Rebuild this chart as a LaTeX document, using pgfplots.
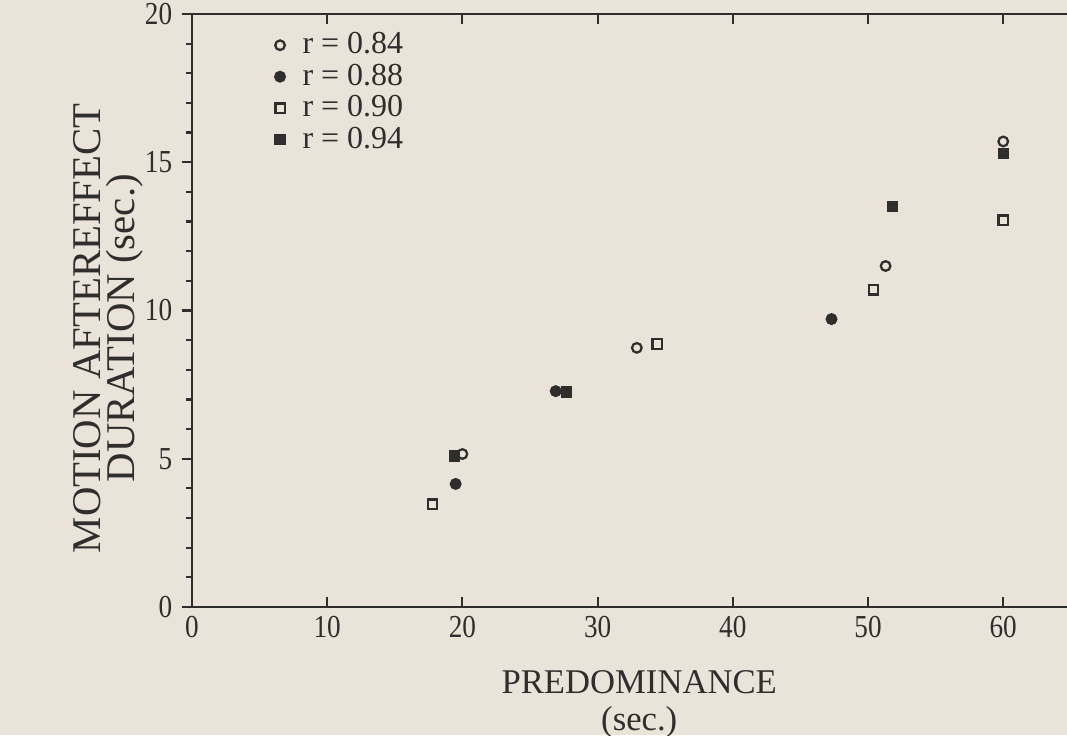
\documentclass[border=0pt]{standalone}
\usepackage{fontspec}
\setmainfont{Liberation Serif}
\newfontfamily\tickfont[FakeStretch=0.85]{Liberation Serif}
\usepackage{pgfplots}
\pgfplotsset{compat=1.18}
\definecolor{bg}{RGB}{234,227,218}
\definecolor{ink}{RGB}{48,46,44}

\pgfplotstableread{
x y
20.0 5.16
32.9 8.74
51.3 11.5
60.0 15.7
}\rA
\pgfplotstableread{
x y
19.5 4.15
26.9 7.28
47.3 9.71
}\rB
\pgfplotstableread{
x y
17.8 3.47
34.4 8.87
50.4 10.7
60.0 13.05
}\rC
\pgfplotstableread{
x y
19.4 5.09
27.7 7.25
51.8 13.5
60.0 15.3
}\rD

\begin{document}
\begin{tikzpicture}
\fill[bg] (0,0) rectangle (400.125pt,275.625pt);
\begin{scope}
\clip (0,0) rectangle (400.125pt,275.625pt);
% y ticks / labels axis
\begin{axis}[
  at={(72pt,48pt)}, anchor=south west,
  scale only axis, width=332.1pt, height=222.4pt,
  xmin=0, xmax=65.5, ymin=0, ymax=20,
  axis line style={draw=none},
  xtick=\empty,
  ytick={0,5,...,20},
  minor ytick={1,2,3,4,6,7,8,9,11,12,13,14,16,17,18,19},
  ytick pos=left,
  tick align=outside,
  major tick length=3.9pt, minor tick length=2.2pt,
  every tick/.style={ink, line width=0.8pt},
  /pgf/number format/assume math mode=true,
  yticklabel style={font=\tickfont\fontsize{12}{12}\selectfont, text=ink},
  ylabel={MOTION AFTEREFFECT\\DURATION (sec.)},
  every axis y label/.style={at={(axis description cs:-0.094,0.47)}, rotate=90, anchor=center, align=center, text=ink, font=\fontsize{15.3}{12.8}\selectfont},
]
\end{axis}
% main axis
\begin{axis}[
  at={(72pt,48pt)}, anchor=south west,
  scale only axis, width=332.1pt, height=222.4pt,
  xmin=0, xmax=65.5, ymin=0, ymax=20,
  axis line style={ink, line width=0.9pt},
  xtick={0,10,...,60},
  ytick=\empty,
  tick align=inside,
  major tick length=3.9pt,
  every tick/.style={ink, line width=0.8pt},
  /pgf/number format/assume math mode=true,
  xticklabel style={font=\tickfont\fontsize{12}{12}\selectfont, text=ink},
  xlabel={PREDOMINANCE\\(sec.)},
  every axis x label/.style={at={(axis description cs:0.505,0)}, anchor=north, yshift=-23.5pt, inner sep=0pt, align=center, text=ink, font=\fontsize{13}{14}\selectfont},
  legend style={at={(axis description cs:0.090,0.974)}, anchor=north west, draw=none, fill=none,
    inner sep=0pt, column sep=0pt,
    font=\fontsize{12}{12}\selectfont, text=ink, row sep=0.3pt,
    nodes={inner sep=1pt, text height=8pt, text depth=1.5pt}},
  legend image code/.code={\path (-2.5pt,0pt) (7pt,0pt); \draw[#1] plot coordinates {(0pt,0pt)};},
  legend cell align=left,
]
\addplot[only marks, mark=o, mark size=1.8pt, ink, line width=0.85pt] table {\rA};
\addlegendentry{r = 0.84}
\addplot[only marks, mark=*, mark size=2.05pt, ink, fill=ink] table {\rB};
\addlegendentry{r = 0.88}
\addplot[only marks, mark=square, mark size=1.75pt, ink, line width=0.85pt] table {\rC};
\addlegendentry{r = 0.90}
\addplot[only marks, mark=square*, mark size=1.9pt, ink, fill=ink] table {\rD};
\addlegendentry{r = 0.94}
\end{axis}
\end{scope}
\pgfresetboundingbox
\path[use as bounding box] (0,0) rectangle (400.125pt,275.625pt);
\end{tikzpicture}
\end{document}
